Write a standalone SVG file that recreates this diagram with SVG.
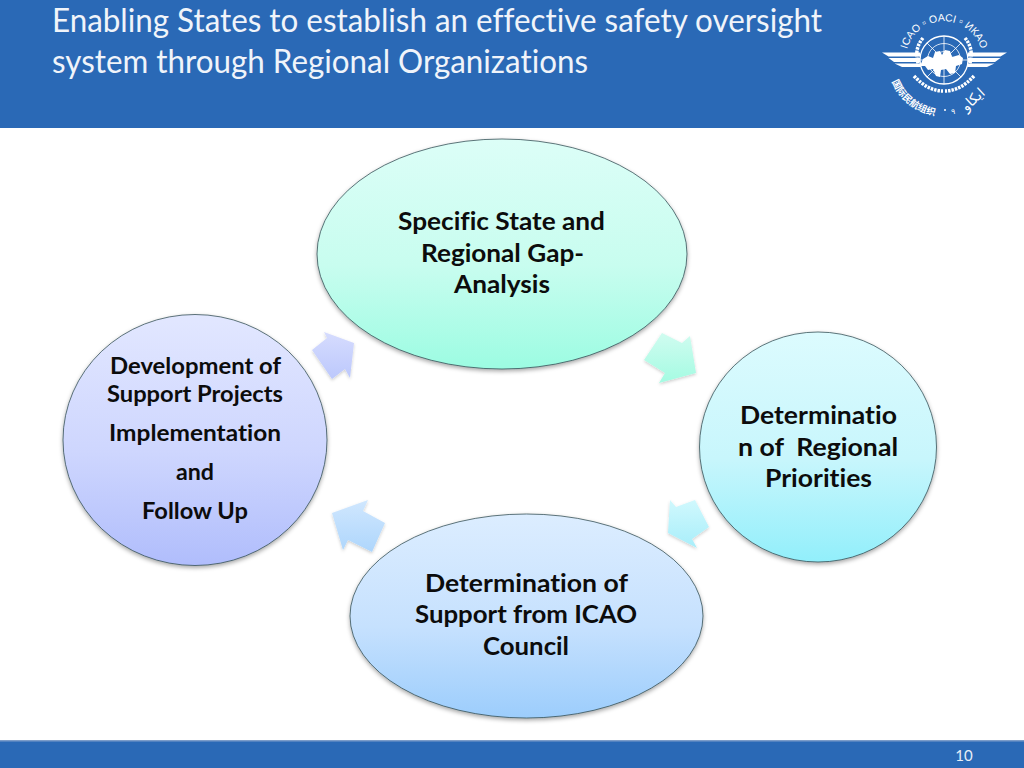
<svg xmlns="http://www.w3.org/2000/svg" width="1024" height="768" viewBox="0 0 1024 768">
<style>
text{font-variant-ligatures:none;white-space:pre}
.t{font-family:Lato,"Liberation Sans",sans-serif;font-size:32px;fill:#f0f4fa}
.n{font-family:Lato,"Liberation Sans",sans-serif;font-weight:700;font-size:25px;fill:#0c0c0c;text-anchor:middle}
.s{font-size:23px}
.node{stroke:#2e4a50;stroke-opacity:.75;stroke-width:1;filter:url(#sh)}
.arrow{filter:url(#sh2)}
.lg{fill:#fff;font-family:"Liberation Sans",sans-serif;font-size:10.500px;text-anchor:middle}
.w{fill:none;stroke:#fff}
.leaf{fill:none;stroke:#fff;stroke-width:3.500;stroke-dasharray:2.500 1}
</style>
<defs>
<linearGradient id="g1" x1="0" y1="0" x2="0" y2="1"><stop offset="0" stop-color="#dcfef7"/><stop offset=".55" stop-color="#c8fdef"/><stop offset="1" stop-color="#9cfce2"/></linearGradient>
<linearGradient id="g2" x1="0" y1="0" x2="0" y2="1"><stop offset="0" stop-color="#dcfbfe"/><stop offset=".55" stop-color="#c8f6fc"/><stop offset="1" stop-color="#92effb"/></linearGradient>
<linearGradient id="g3" x1="0" y1="0" x2="0" y2="1"><stop offset="0" stop-color="#dcedff"/><stop offset=".55" stop-color="#c6e1fe"/><stop offset="1" stop-color="#9ccdfc"/></linearGradient>
<linearGradient id="g4" x1="0" y1="0" x2="0" y2="1"><stop offset="0" stop-color="#e2e7ff"/><stop offset=".55" stop-color="#ced6fe"/><stop offset="1" stop-color="#b0bdfc"/></linearGradient>
<linearGradient id="a1" x1="0" y1="0" x2="0" y2="1"><stop offset="0" stop-color="#d0fcf0"/><stop offset="1" stop-color="#a4fbe2"/></linearGradient>
<linearGradient id="a2" x1="0" y1="0" x2="0" y2="1"><stop offset="0" stop-color="#d0f8fd"/><stop offset="1" stop-color="#a8eefa"/></linearGradient>
<linearGradient id="a3" x1="0" y1="0" x2="0" y2="1"><stop offset="0" stop-color="#d0e7fe"/><stop offset="1" stop-color="#aed6fc"/></linearGradient>
<linearGradient id="a4" x1="0" y1="0" x2="0" y2="1"><stop offset="0" stop-color="#d6dcfe"/><stop offset="1" stop-color="#bcc8fc"/></linearGradient>
<filter id="sh" x="-5%" y="-5%" width="110%" height="112%"><feDropShadow dx="0" dy="2" stdDeviation="2" flood-color="#000" flood-opacity=".35"/></filter>
<filter id="sh2" x="-15%" y="-15%" width="130%" height="130%"><feDropShadow dx="0" dy="1.500" stdDeviation="1.500" flood-color="#000" flood-opacity=".2"/></filter>
<path id="ringTop" d="M907.500 72A38.500 38.500 0 1 1 980.500 72"/>
<path id="ringBot" d="M889 72A56 56 0 0 0 950 116"/>
<clipPath id="gc"><circle cx="944" cy="60" r="24"/></clipPath>
</defs>
<g id="header">
<rect width="1024" height="128" fill="#2a69b6"/>
<text class="t" x="52" y="32" textLength="770" lengthAdjust="spacingAndGlyphs">Enabling States to establish an effective safety oversight</text>
<text class="t" x="52" y="73" textLength="536" lengthAdjust="spacingAndGlyphs">system through Regional Organizations</text>
</g>
<g id="logo">
<text class="lg"><textPath href="#ringTop" startOffset="50%">ICAO ▫ OACI ▫ ИКАО</textPath></text>
<circle class="w" cx="944" cy="60" r="24" stroke-width="1.300"/>
<circle class="w" cx="944" cy="60" r="16.500" stroke-width=".8"/>
<circle class="w" cx="944" cy="60" r="8.500" stroke-width=".8"/>
<path class="w" stroke-width=".8" d="M920 60H968M944 36V84M927 43L961 77M961 43L927 77"/>
<path fill="#fff" clip-path="url(#gc)" d="M923 59l5-3 5 2 2-6 5-1 2 4 3-5 5 1 2 6 7-2 4 3-1 6-6 2-1 7-5 1-4-5-5 1-1 7-4-1-3-7-5 1-3-4-5 0z"/>
<path fill="#fff" d="M882 52.500H920V56.500H888.500zM888.500 58H920V62H894zM894.500 63.500H920L921 67H902zM1007 52.500H968V56.500H1000.500zM1000.500 58H968V62H995zM994.500 63.500H968L967 67H987z"/>
<path class="leaf" d="M923 38Q913 50 919 66"/>
<path class="leaf" d="M965 38Q975 50 969 66"/>
<path class="leaf" d="M914 76Q928 91 943 91"/>
<path class="leaf" d="M974 76Q960 91 945 91"/>
<text fill="#fff" font-family="'Noto Sans CJK SC',sans-serif" font-weight="700" font-size="9.500"><textPath href="#ringBot" startOffset="12%">国际民航组织</textPath></text>
<circle cx="945" cy="110" r="1" fill="#fff"/>
<text x="951" y="114" fill="#fff" font-family="'DejaVu Sans',sans-serif" font-size="8">٩</text>
<text transform="translate(976,103) rotate(-42)" text-anchor="middle" fill="#fff" font-family="'DejaVu Sans',sans-serif" font-size="14">ايكاو</text>
</g>
<g id="connectors">
<polygon class="arrow" fill="url(#a1)" points="662,333 682,343 690,336 696,373 659,383 665,373 644,360"/>
<polygon class="arrow" fill="url(#a2)" points="670,500 676,507 695,500 709,527 692,539 697,548 668,533"/>
<polygon class="arrow" fill="url(#a3)" points="332,513 368,500 363,511 385,523 372,552 348,540 343,550"/>
<polygon class="arrow" fill="url(#a4)" points="324,332 327,338 312,350 332,379 345,369 350,378 354,343"/>
</g>
<g id="node-gap">
<ellipse class="node" cx="502" cy="254" rx="185" ry="115" fill="url(#g1)"/>
<text class="n" x="501.500" y="230" textLength="207" lengthAdjust="spacingAndGlyphs">Specific State and</text>
<text class="n" x="502.500" y="262" textLength="163" lengthAdjust="spacingAndGlyphs">Regional Gap-</text>
<text class="n" x="502" y="293" textLength="96" lengthAdjust="spacingAndGlyphs">Analysis</text>
</g>
<g id="node-priorities">
<ellipse class="node" cx="818" cy="447" rx="118.500" ry="115" fill="url(#g2)"/>
<text class="n" x="818.500" y="424" textLength="157" lengthAdjust="spacingAndGlyphs">Determinatio</text>
<text class="n" x="818" y="456" textLength="160" lengthAdjust="spacingAndGlyphs">n of  Regional</text>
<text class="n" x="818.500" y="487" textLength="107" lengthAdjust="spacingAndGlyphs">Priorities</text>
</g>
<g id="node-support">
<ellipse class="node" cx="526.500" cy="616" rx="176.500" ry="102" fill="url(#g3)"/>
<text class="n" x="526.500" y="592" textLength="203" lengthAdjust="spacingAndGlyphs">Determination of</text>
<text class="n" x="526" y="623" textLength="222" lengthAdjust="spacingAndGlyphs">Support from ICAO</text>
<text class="n" x="526" y="655" textLength="86" lengthAdjust="spacingAndGlyphs">Council</text>
</g>
<g id="node-projects">
<ellipse class="node" cx="195" cy="440" rx="132" ry="125.500" fill="url(#g4)"/>
<text class="n s" x="195.500" y="374" textLength="171" lengthAdjust="spacingAndGlyphs">Development of</text>
<text class="n s" x="195" y="402" textLength="176" lengthAdjust="spacingAndGlyphs">Support Projects</text>
<text class="n s" x="195" y="441" textLength="172" lengthAdjust="spacingAndGlyphs">Implementation</text>
<text class="n s" x="195" y="480" textLength="38" lengthAdjust="spacingAndGlyphs">and</text>
<text class="n s" x="195" y="519" textLength="106" lengthAdjust="spacingAndGlyphs">Follow Up</text>
</g>
<g id="footer">
<rect y="741" width="1024" height="27" fill="#2a69b6"/>
<rect y="740" width="1024" height="1.500" fill="#7b9cc9"/>
<text x="964" y="761" text-anchor="middle" font-family="Lato,'Liberation Sans',sans-serif" font-size="15" fill="#e8eef7">10</text>
</g>
</svg>
